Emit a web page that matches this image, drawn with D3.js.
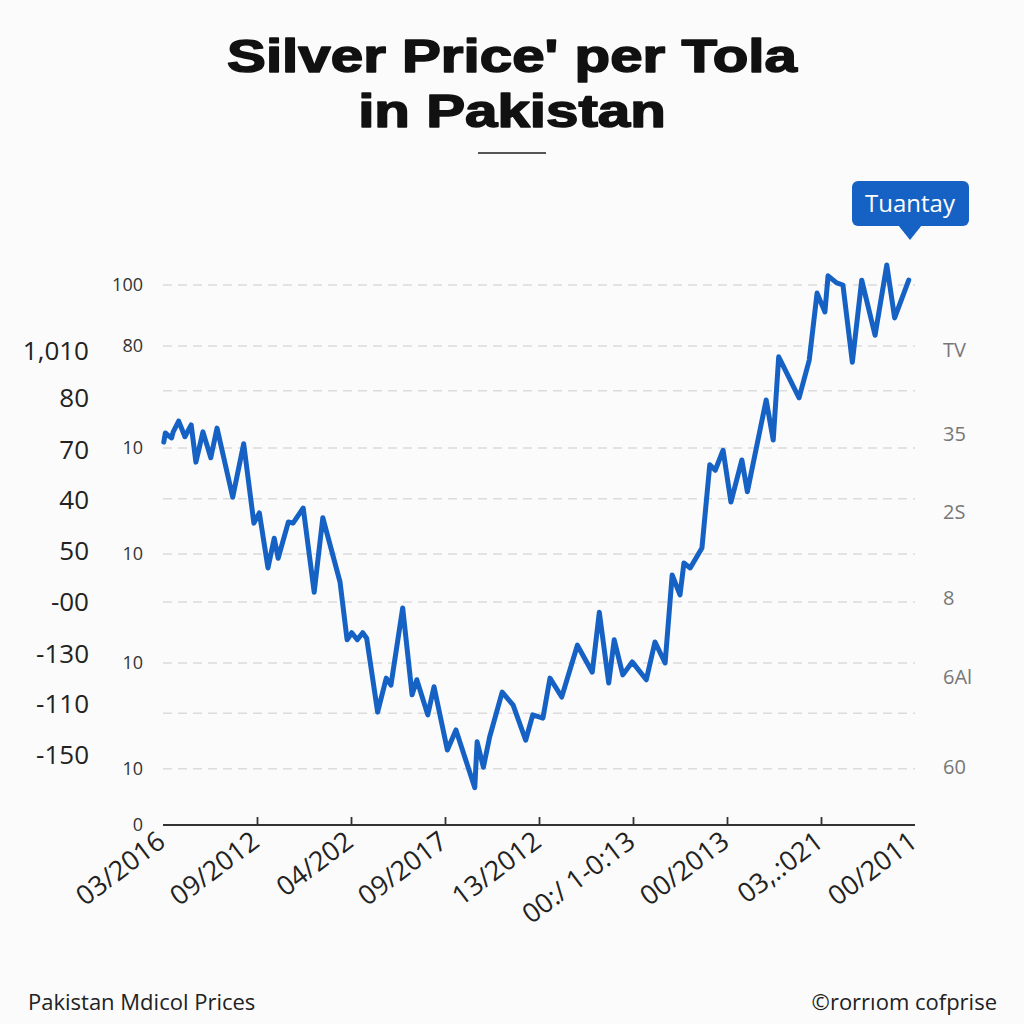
<!DOCTYPE html>
<html><head><meta charset="utf-8">
<script src="https://cdn.jsdelivr.net/npm/d3@7"></script>
<style>
html,body{margin:0;padding:0;background:#fbfbfb;}
svg{display:block;}
</style></head>
<body>
<script>
// ---- data ----
const months = [0.1,0.3,0.6,1.1,1.3,2.0,2.8,3.6,4.2,5.1,6.1,6.9,8.9,10.3,11.6,12.3,13.4,14.2,14.7,16.0,16.6,17.9,19.3,20.4,22.6,23.5,24.1,24.8,25.5,26.0,27.4,28.5,29.1,30.6,31.8,32.4,33.8,34.6,36.3,37.4,39.8,40.1,40.9,41.7,43.3,44.7,46.3,47.2,48.5,49.4,50.9,52.9,54.8,55.7,56.9,57.6,58.7,59.9,61.7,62.8,64.1,65.0,66.0,66.5,67.3,68.8,69.8,70.5,71.5,72.5,73.9,74.6,77.0,77.9,78.6,81.2,82.5,83.5,84.5,84.9,86.0,86.8,88.0,89.2,90.9,92.4,93.4,95.2];
const prices = [70.9,72.6,72.2,71.7,72.8,74.8,71.9,74.1,67.2,72.8,68.0,73.5,60.7,70.6,55.9,57.8,47.6,53.1,49.4,56.1,55.9,58.7,43.1,56.9,45.0,34.3,35.6,34.3,35.6,34.6,20.9,27.2,25.9,40.2,24.1,26.9,20.4,25.6,13.9,17.6,6.9,15.4,10.7,16.3,24.6,22.2,15.7,20.4,19.8,27.2,23.7,33.3,28.3,39.4,26.3,34.3,27.8,30.2,26.9,33.9,30.0,46.3,42.6,48.5,47.6,51.3,66.7,65.7,69.4,59.8,67.6,61.7,78.7,71.3,86.7,79.1,86.1,98.5,95.0,101.7,100.4,100.0,85.7,100.9,90.7,103.7,93.9,100.9];
const xTickLabels = ["03/2016","09/2012","04/202","09/2017","13/2012","00:/ 1-0:13","00/2013","03,.:021","00/2011"];
const xTickMonths = [0,12,24,36,48,60,72,84,96];
const gridValues = [100,88.7,80.4,69.8,60.4,50.2,41.3,30.0,20.7,10.4];
const innerTickValues = [100,88.7,69.8,50.2,30.0,10.4,0];
const innerTickLabels = ["100","80","10","10","10","10","0"];
const outerTickValues = [87.8,79.1,69.4,60.2,50.7,41.3,31.7,22.4,13.0];
const outerTickLabels = ["1,010","80","70","40","50","-00","-130","-110","-150"];
const rightTickValues = [88.0,72.4,58.0,42.0,27.4,10.7];
const rightTickLabels = ["TV","35","2S","8","6Al","60"];
const titleLines = ["Silver Price' per Tola","in Pakistan"];
const badgeText = "Tuantay";
const footerLeft = "Pakistan Mdicol Prices";
const footerRight = "©rorrıom cofprise";

// ---- layout ----
const W=1024,H=1024;
const x0=163,x1=915,yTop=285,yBot=825;
const svg=d3.select("body").append("svg").attr("width",W).attr("height",H);
svg.append("rect").attr("width",W).attr("height",H).attr("fill","#fbfbfb");

const x=d3.scaleLinear().domain([0,96]).range([x0,x1]);
const y=d3.scaleLinear().domain([0,100]).range([yBot,yTop]);

// title
svg.append("g").attr("transform","translate(512,0) scale(1.24,1)")
  .selectAll("text").data(titleLines).join("text")
  .attr("x",0).attr("y",(d,i)=>72+i*55)
  .attr("text-anchor","middle")
  .attr("font-family","Liberation Sans, Arial, sans-serif")
  .attr("font-weight","bold").attr("font-size",47).attr("fill","#111")
  .attr("stroke","#111").attr("stroke-width",1.6).attr("stroke-linejoin","round")
  .text(d=>d);
svg.append("line").attr("x1",478).attr("x2",546).attr("y1",153).attr("y2",153)
  .attr("stroke","#555").attr("stroke-width",2);

// grid
svg.append("g").selectAll("line").data(gridValues).join("line")
  .attr("x1",x0).attr("x2",x1).attr("y1",d=>y(d)).attr("y2",d=>y(d))
  .attr("stroke","#dcdcdc").attr("stroke-width",1.5).attr("stroke-dasharray","9,6");

// inner axis
const innerAxis=svg.append("g").attr("transform",`translate(${x0-18},0)`)
  .call(d3.axisLeft(y).tickValues(innerTickValues).tickSize(0).tickPadding(2)
    .tickFormat((d,i)=>innerTickLabels[i]));
innerAxis.select(".domain").remove();
innerAxis.selectAll("text").attr("font-family","Open Sans, sans-serif").attr("font-size",18).attr("fill","#333");

// outer axis
const outerAxis=svg.append("g").attr("transform",`translate(91,0)`)
  .call(d3.axisLeft(y).tickValues(outerTickValues).tickSize(0).tickPadding(2)
    .tickFormat((d,i)=>outerTickLabels[i]));
outerAxis.select(".domain").remove();
outerAxis.selectAll("text").attr("font-family","Open Sans, sans-serif").attr("font-size",26).attr("fill","#222");

// right axis
const rightAxis=svg.append("g").attr("transform",`translate(935,0)`)
  .call(d3.axisRight(y).tickValues(rightTickValues).tickSize(0).tickPadding(8)
    .tickFormat((d,i)=>rightTickLabels[i]));
rightAxis.select(".domain").remove();
rightAxis.selectAll("text").attr("font-family","Open Sans, sans-serif").attr("font-size",20).attr("fill","#777");

// x axis
const xAxis=svg.append("g").attr("transform",`translate(0,${yBot})`)
  .call(d3.axisTop(x).tickValues(xTickMonths.slice(1,-1)).tickSize(8).tickFormat(""));
xAxis.select(".domain").attr("d",`M${x0},0H${x1}`).attr("stroke","#333").attr("stroke-width",1.8);
xAxis.selectAll(".tick line").attr("stroke","#333").attr("stroke-width",1.8);

svg.append("g").selectAll("text").data(xTickMonths).join("text")
  .attr("transform",d=>`translate(${x(d)+4},${yBot+20}) rotate(-37)`)
  .attr("text-anchor","end")
  .attr("font-family","Open Sans, sans-serif").attr("font-size",27).attr("fill","#222")
  .text((d,i)=>xTickLabels[i]);

// line
const data=months.map((m,i)=>({m,v:prices[i]}));
svg.append("path").datum(data)
  .attr("d",d3.line().x(d=>x(d.m)).y(d=>y(d.v)))
  .attr("fill","none").attr("stroke","#1662c4").attr("stroke-width",5)
  .attr("stroke-linejoin","round").attr("stroke-linecap","round");

// badge
const b=svg.append("g");
b.append("rect").attr("x",852).attr("y",181).attr("width",117).attr("height",45).attr("rx",6)
  .attr("fill","#1662c4");
b.append("path").attr("d","M898,225 L922,225 L910,240 Z").attr("fill","#1662c4");
b.append("text").attr("x",910).attr("y",212).attr("text-anchor","middle")
  .attr("font-family","Open Sans, sans-serif").attr("font-size",24).attr("fill","#fff").text(badgeText);

// footer
svg.append("text").attr("x",28).attr("y",1010)
  .attr("font-family","Open Sans, sans-serif").attr("font-size",22).attr("fill","#222").text(footerLeft);
svg.append("text").attr("x",997).attr("y",1010).attr("text-anchor","end")
  .attr("font-family","Open Sans, sans-serif").attr("font-size",22).attr("fill","#222").text(footerRight);
</script>
</body></html>
